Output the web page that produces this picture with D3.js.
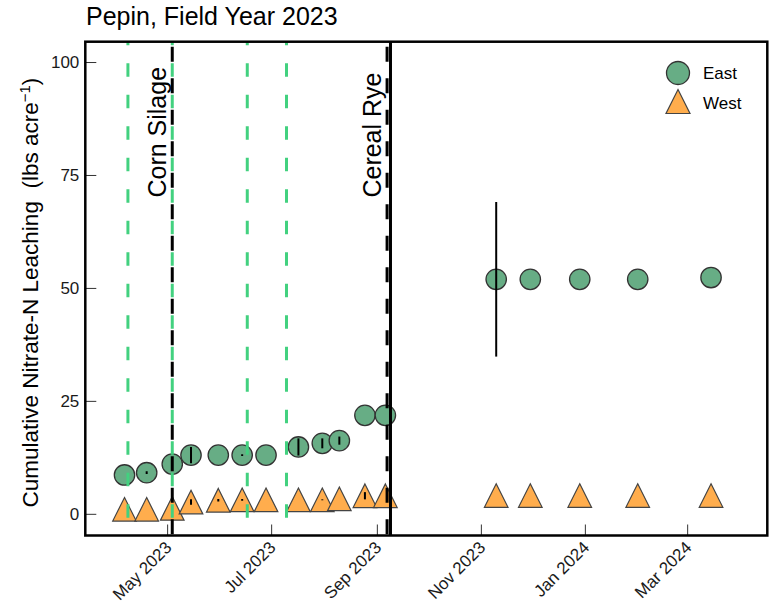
<!DOCTYPE html>
<html>
<head>
<meta charset="utf-8">
<script src="https://cdn.jsdelivr.net/npm/d3@7"></script>
<style>
  body { margin: 0; background: #fff; }
  text { font-family: "Liberation Sans", Arial, sans-serif; }
</style>
</head>
<body>
<svg id="chart" width="769" height="607"></svg>
<script>
// Sampling dates and cumulative nitrate-N leaching (lbs/acre) at the two Pepin sites
const sampleDates = ["2023-04-06", "2023-04-19", "2023-05-04", "2023-05-15", "2023-05-31", "2023-06-14",
  "2023-06-28", "2023-07-17", "2023-07-31", "2023-08-10", "2023-08-25", "2023-09-06",
  "2023-11-10", "2023-11-30", "2023-12-29", "2024-02-01", "2024-03-15"];
const eastMean = [8.6, 9.1, 11.0, 13.0, 13.0, 13.0, 13.0, 14.8, 15.6, 16.2, 21.8, 21.8,
  51.9, 51.9, 51.9, 51.9, 52.3];
const eastErr = [0, 0.3, 0, 1.8, 0, 0.2, 0, 1.9, 1.1, 0.9, 0, 0, 17.1, 0, 0, 0, 0];
const westMean = [1.0, 1.0, 1.2, 2.6, 3.0, 3.1, 3.1, 3.1, 3.1, 3.3, 4.0, 4.0,
  4.05, 4.05, 4.05, 4.05, 4.05];
const westErr = [0, 0, 0, 0.6, 0.3, 0.2, 0, 0, 0.1, 0, 0.8, 0, 0, 0, 0, 0, 0];

const yTicks = [0, 25, 50, 75, 100];

// Field operations
const fertilizerDates = ["2023-04-08", "2023-05-04", "2023-06-17", "2023-07-10"];
const plantingDates = ["2023-05-04", "2023-09-07"];
const plantingLabels = ["Corn Silage", "Cereal Rye"];
const harvestDates = ["2023-09-09"];

const seriesNames = ["East", "West"];
const seriesFill = ["#67ad85", "#ffad4d"];

const svg = d3.select("#chart");
const frame = { left: 85.3, right: 767.3, top: 41.7, bottom: 535.5 };
const parse = d3.utcParse("%Y-%m-%d");

const x = d3.scaleUtc()
  .domain([parse("2023-03-14"), parse("2024-04-17")])
  .range([frame.left, frame.right]);
const y = d3.scaleLinear()
  .domain([-4.8, 104.5])
  .range([frame.bottom, frame.top]);

svg.append("clipPath").attr("id", "plotclip")
  .append("rect")
  .attr("x", frame.left).attr("y", frame.top)
  .attr("width", frame.right - frame.left).attr("height", frame.bottom - frame.top);

const plot = svg.append("g").attr("clip-path", "url(#plotclip)");

// Title
svg.append("text")
  .attr("x", 86).attr("y", 25)
  .attr("font-size", 25).attr("fill", "#000")
  .text("Pepin, Field Year 2023");

// Axes (ticks point inward)
const yAxis = d3.axisLeft(y).tickValues(yTicks).tickSize(-11).tickPadding(6);
const gy = svg.append("g").attr("transform", `translate(${frame.left},0)`).call(yAxis);
gy.select(".domain").remove();
gy.selectAll(".tick line").attr("stroke", "#333").attr("stroke-width", 1);
gy.selectAll(".tick text").attr("font-size", 17).attr("fill", "#1a1a1a")
  .attr("font-family", "Liberation Sans, Arial, sans-serif");

const xAxis = d3.axisBottom(x).ticks(d3.utcMonth.every(2)).tickSize(-11)
  .tickFormat(d3.utcFormat("%b %Y"));
const gx = svg.append("g").attr("transform", `translate(0,${frame.bottom})`).call(xAxis);
gx.select(".domain").remove();
gx.selectAll(".tick line").attr("stroke", "#333").attr("stroke-width", 1);
gx.selectAll(".tick text")
  .attr("font-size", 17).attr("fill", "#1a1a1a")
  .attr("font-family", "Liberation Sans, Arial, sans-serif")
  .attr("text-anchor", "end")
  .attr("dy", null)
  .attr("y", null)
  .attr("transform", "translate(5,13) rotate(-45)");

// Y axis title
const ylab = svg.append("text")
  .attr("transform", `translate(38,${(frame.top + frame.bottom) / 2 + 4}) rotate(-90)`)
  .attr("text-anchor", "middle")
  .attr("font-size", 22.5).attr("fill", "#000")
  .style("white-space", "pre");
ylab.append("tspan").text("Cumulative Nitrate-N Leaching  (lbs acre");
ylab.append("tspan").attr("baseline-shift", "super").attr("font-size", 15).text("\u22121");
ylab.append("tspan").text(")");

// Data rows
const rows = sampleDates.map((d, i) => ({
  date: parse(d),
  east: eastMean[i], eastErr: eastErr[i],
  west: westMean[i], westErr: westErr[i]
}));

const triPath = (cx, cy, s) =>
  `M${cx},${cy - s}L${cx + s},${cy + s}L${cx - s},${cy + s}Z`;

// East: circles
plot.append("g").selectAll("circle").data(rows).join("circle")
  .attr("cx", d => x(d.date)).attr("cy", d => y(d.east)).attr("r", 10.2)
  .attr("fill", seriesFill[0]).attr("stroke", "#333").attr("stroke-width", 1.3);

// West: triangles
plot.append("g").selectAll("path").data(rows).join("path")
  .attr("d", d => triPath(x(d.date), y(d.west), 11.8))
  .attr("fill", seriesFill[1]).attr("stroke", "#444").attr("stroke-width", 1.2);

// Error bars
const errs = rows.flatMap(d => [
  { date: d.date, v: d.east, e: d.eastErr },
  { date: d.date, v: d.west, e: d.westErr }
]).filter(d => d.e > 0);
plot.append("g").selectAll("line").data(errs).join("line")
  .attr("x1", d => x(d.date)).attr("x2", d => x(d.date))
  .attr("y1", d => y(d.v - d.e)).attr("y2", d => y(d.v + d.e))
  .attr("stroke", "#000").attr("stroke-width", 2);

// Field-operation lines
plot.append("g").selectAll("line").data(harvestDates).join("line")
  .attr("x1", d => x(parse(d))).attr("x2", d => x(parse(d)))
  .attr("y1", frame.top).attr("y2", frame.bottom)
  .attr("stroke", "#000").attr("stroke-width", 3);

plot.append("g").selectAll("line").data(plantingDates).join("line")
  .attr("x1", d => x(parse(d))).attr("x2", d => x(parse(d)))
  .attr("y1", frame.top).attr("y2", frame.bottom)
  .attr("stroke", "#000").attr("stroke-width", 3)
  .attr("stroke-dasharray", "15,16.5").attr("stroke-dashoffset", -5);

plot.append("g").selectAll("line").data(fertilizerDates).join("line")
  .attr("x1", d => x(parse(d))).attr("x2", d => x(parse(d)))
  .attr("y1", frame.top).attr("y2", frame.bottom)
  .attr("stroke", "#42d17f").attr("stroke-width", 3)
  .attr("stroke-dasharray", "13.5,18").attr("stroke-dashoffset", 10);

// Planting labels
svg.append("g").selectAll("text").data(plantingDates).join("text")
  .attr("transform", d => `translate(${x(parse(d)) - 6},${y(70)}) rotate(-90)`)
  .attr("font-size", 25).attr("fill", "#000")
  .text((d, i) => plantingLabels[i]);

// Legend
const legend = svg.append("g");
legend.append("circle").attr("cx", 678).attr("cy", 73).attr("r", 11.5)
  .attr("fill", seriesFill[0]).attr("stroke", "#333").attr("stroke-width", 1.3);
legend.append("path").attr("d", triPath(678, 101.5, 12))
  .attr("fill", seriesFill[1]).attr("stroke", "#444").attr("stroke-width", 1.2);
legend.selectAll("text").data(seriesNames).join("text")
  .attr("x", 703).attr("y", (d, i) => 73 + i * 30)
  .attr("dy", "0.35em").attr("font-size", 17).attr("fill", "#000")
  .text(d => d);

// Frame
svg.append("rect")
  .attr("x", frame.left).attr("y", frame.top)
  .attr("width", frame.right - frame.left).attr("height", frame.bottom - frame.top)
  .attr("fill", "none").attr("stroke", "#000").attr("stroke-width", 2.5);
</script>
</body>
</html>
